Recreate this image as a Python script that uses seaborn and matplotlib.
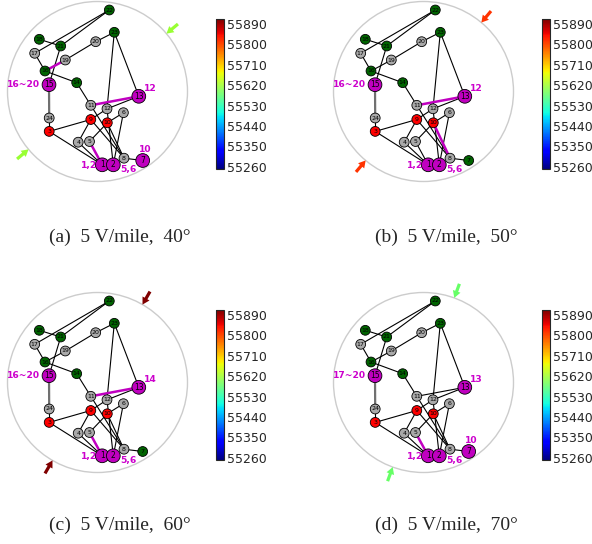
import numpy as np
import pandas as pd
import matplotlib
matplotlib.use("Agg")
import matplotlib.pyplot as plt
import seaborn as sns
from matplotlib.patches import Circle
from matplotlib.cm import ScalarMappable
from matplotlib.colors import Normalize

sns.set_style("white")
plt.rcParams['font.family'] = ['DejaVu Sans']

# ---------------- data ----------------
node_ids = list(range(1, 25))
node_x = [4.7, 15.8, -48.3, -19.3, -8.0, 25.9, 45.2, 26.5, -6.7, 9.8, -6.7, 9.5,
          41.3, -20.8, -48.5, -52.5, -62.8, -58.2, -32.2, -1.8, -36.8, 11.8, 16.8, -48.3]
node_y = [-73.3, -73.3, -39.9, -50.7, -50.0, -21.2, -69.0, -66.7, -28.0, -31.3, -13.8, -17.3,
          -4.8, 8.8, 6.8, 20.5, 38.2, 52.2, 31.5, 49.8, 45.5, 81.5, 59.2, -26.5]
green_nodes = [7, 14, 16, 18, 21, 22, 23]
red_nodes = [3, 9, 10]

edges = [(1, 3), (1, 4), (1, 5), (2, 6), (2, 12), (3, 9), (4, 9), (9, 12), (8, 9),
         (5, 10), (6, 10), (8, 10), (8, 11), (11, 13), (12, 13), (11, 14), (15, 24),
         (3, 24), (14, 16), (16, 17), (17, 22), (21, 22), (18, 21), (15, 21),
         (19, 20), (16, 19), (20, 23), (12, 23), (13, 23), (7, 8)]
double_edges = [(15, 24)]

panel_letters = ["a", "b", "c", "d"]
field_volts = [5, 5, 5, 5]
field_angles = [40, 50, 60, 70]
arrow_colors = ["#99ff33", "#ff3300", "#800000", "#66ff66"]
magenta_nodes = [[1, 2, 7, 13, 15], [1, 2, 13, 15], [1, 2, 13, 15], [1, 2, 7, 13, 15]]
highlight_edges = [[(16, 19), (11, 13), (1, 5)], [(11, 13), (8, 10)],
                   [(11, 13), (1, 5)], [(1, 5)]]
group_labels = [
    {15: "16~20", 13: "12", 7: "10", 1: "1,2", 2: "5,6"},
    {15: "16~20", 13: "12", 1: "1,2", 2: "5,6"},
    {15: "16~20", 13: "14", 1: "1,2", 2: "5,6"},
    {15: "17~20", 13: "13", 7: "10", 1: "1,2", 2: "5,6"},
]
cb_ticks = [55260, 55350, 55440, 55530, 55620, 55710, 55800, 55890]
cb_min, cb_max = 55250, 55912

# ---------------- style ----------------
W, H = 592, 544
palette = {"green": "#006400", "red": "#ff0000", "grey": "#a9a9a9", "magenta": "#bf00bf"}
sizes = {"green": 50, "red": 50, "grey": 50, "magenta": 98}
label_style = {  # node -> (dx, dy, ha, va)
    15: (-9, 0, "right", "center"),
    13: (5, 7.5, "left", "center"),
    7: (3, 11, "center", "center"),
    1: (-5.5, -1, "right", "center"),
    2: (7, -4.5, "left", "center"),
}
panel_offsets = [(0, 0), (326, 0), (0, 291), (326, 291)]
caption_pos = [(120, 237), (446, 237), (120, 525), (446, 525)]

fig = plt.figure(figsize=(W / 100, H / 100), dpi=100)
fig.patch.set_facecolor("white")

pos = {n: (x, y) for n, x, y in zip(node_ids, node_x, node_y)}

for k in range(4):
    ox, oy = panel_offsets[k]
    cx, cy = 97.5 + ox, 91.5 + oy
    ax = fig.add_axes([(cx - 92) / W, 1 - (cy + 92) / H, 184 / W, 184 / H])

    ax.add_patch(Circle((0, 0), 90, fill=False, ec="#cccccc", lw=1.0, zorder=0))

    hl = set(tuple(sorted(e)) for e in highlight_edges[k])
    for a, b in edges:
        xa, ya = pos[a]
        xb, yb = pos[b]
        key = tuple(sorted((a, b)))
        if key in hl:
            ax.plot([xa, xb], [ya, yb], color="#c000c0", lw=1.8, zorder=2)
        elif (a, b) in double_edges:
            ax.plot([xa, xb], [ya, yb], color="#707070", lw=1.6, zorder=1)
        else:
            ax.plot([xa, xb], [ya, yb], color="black", lw=0.8, zorder=1)

    status = []
    for n in node_ids:
        if n in magenta_nodes[k]:
            status.append("magenta")
        elif n in green_nodes:
            status.append("green")
        elif n in red_nodes:
            status.append("red")
        else:
            status.append("grey")
    df = pd.DataFrame({"node": node_ids, "x": node_x, "y": node_y, "status": status})
    sns.scatterplot(data=df, x="x", y="y", hue="status", palette=palette,
                    size="status", sizes=sizes, edgecolor="black", linewidth=0.6,
                    legend=False, ax=ax, zorder=3)
    ax.set_xlim(-92, 92)
    ax.set_ylim(-92, 92)
    ax.axis("off")

    for n, x, y, s in zip(node_ids, node_x, node_y, status):
        ax.text(x, y, str(n), fontsize=4.5 if s != "magenta" else 5.5,
                ha="center", va="center", color="black", zorder=4)

    for n, txt in group_labels[k].items():
        dx, dy, ha, va = label_style[n]
        x, y = pos[n]
        ax.text(x + dx, y + dy, txt, fontsize=6.6, fontweight="bold", color="#cc00cc",
                ha=ha, va=va, zorder=5)

    th = np.radians(field_angles[k])
    for sgn in (1, -1):
        tx, ty = sgn * 105 * np.cos(th), sgn * 105 * np.sin(th)
        hx, hy = sgn * 90 * np.cos(th), sgn * 90 * np.sin(th)
        ax.arrow(tx, ty, hx - tx, hy - ty, width=3.2, head_width=8, head_length=7,
                 length_includes_head=True, color=arrow_colors[k], lw=0,
                 clip_on=False, zorder=5)

    cax = fig.add_axes([(216 + ox) / W, 1 - (169 + oy) / H, 8.3 / W, 150 / H])
    sm = ScalarMappable(norm=Normalize(cb_min, cb_max), cmap="jet")
    cb = fig.colorbar(sm, cax=cax, ticks=cb_ticks)
    cb.ax.set_yticklabels([str(t) for t in cb_ticks])
    cb.ax.tick_params(labelsize=9, length=2, direction="in", pad=2, width=0.6)
    cb.outline.set_linewidth(0.8)

    fx, fy = caption_pos[k]
    fig.text(fx / W, 1 - fy / H,
             f"({panel_letters[k]})  {field_volts[k]} V/mile,  {field_angles[k]}\u00b0",
             ha="center", va="center", fontsize=14,
             family=["Liberation Serif", "DejaVu Serif"])

fig.savefig("out.png", dpi=100, facecolor="white")
